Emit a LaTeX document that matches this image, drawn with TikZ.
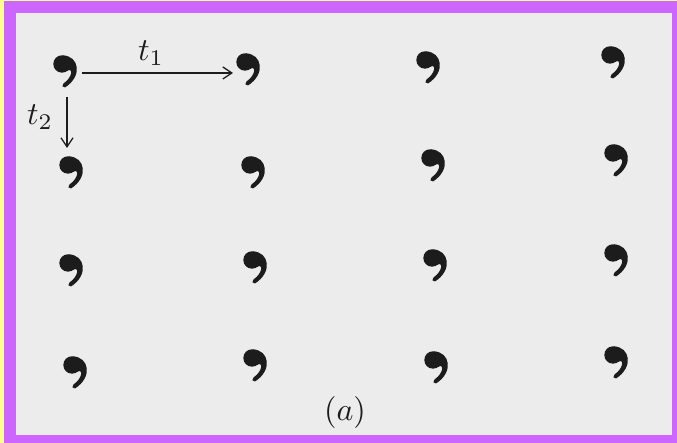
\documentclass[tikz,border=0pt]{standalone}
\usetikzlibrary{arrows.meta}
\definecolor{frameyel}{RGB}{255,255,140}
\definecolor{framemag}{RGB}{204,102,255}
\definecolor{paper}{RGB}{236,236,236}
\definecolor{ink}{RGB}{28,28,28}
\newcommand{\biglbl}[1]{\scalebox{3.2}{#1}}
\tikzset{
  x=1pt, y=1pt,
  comma/.pic={
    \fill[ink] (0,0) circle (8.7);
    \fill[ink] (1,8.6) .. controls (17,8) and (21,-12) .. (3,-23.5)
      .. controls (0.5,-24.2) and (-0.8,-20.8) .. (1.5,-19.5)
      .. controls (11,-13) and (11,-3) .. (5,-7) -- cycle;
  },
  vec/.style={draw=ink, line width=1.3pt, -{Straight Barb[length=9pt,width=12pt]}},
  lbl/.style={text=ink, inner sep=0pt},
}
\begin{document}
\begin{tikzpicture}
\useasboundingbox (0,0) rectangle (677,443);
\fill[frameyel] (0,0) rectangle (677,443);
\fill[framemag] (4,0) rectangle (677,442);
\fill[paper] (16,8) rectangle (672,430);
% comma positions (head centres)
\foreach \n/\px/\py in {
  11/62/379, 12/245/381, 13/425/383, 14/610/388,
  21/68/278, 22/250/278, 23/430/285, 24/613/290,
  31/68/180, 32/252/183, 33/432/185, 34/613/190,
  41/72/78,  42/252/85,  43/433/83,  44/613/88}{
  \coordinate (c\n) at (\px,\py);
  \pic at (c\n) {comma};
}
\coordinate (t1s) at (82,370);
\coordinate (t1e) at (233,370);
\coordinate (t2s) at (67,346);
\coordinate (t2e) at (67,295);
\draw[vec] (t1s) -- (t1e);
\draw[vec] (t2s) -- (t2e);
\node[lbl] (lt1) at (151,390) {\biglbl{$t_1$}};
\node[lbl] (lt2) at (40,326) {\biglbl{$t_2$}};
\node[lbl] (la) at (345,30) {\biglbl{$(a)$}};
\end{tikzpicture}
\end{document}
